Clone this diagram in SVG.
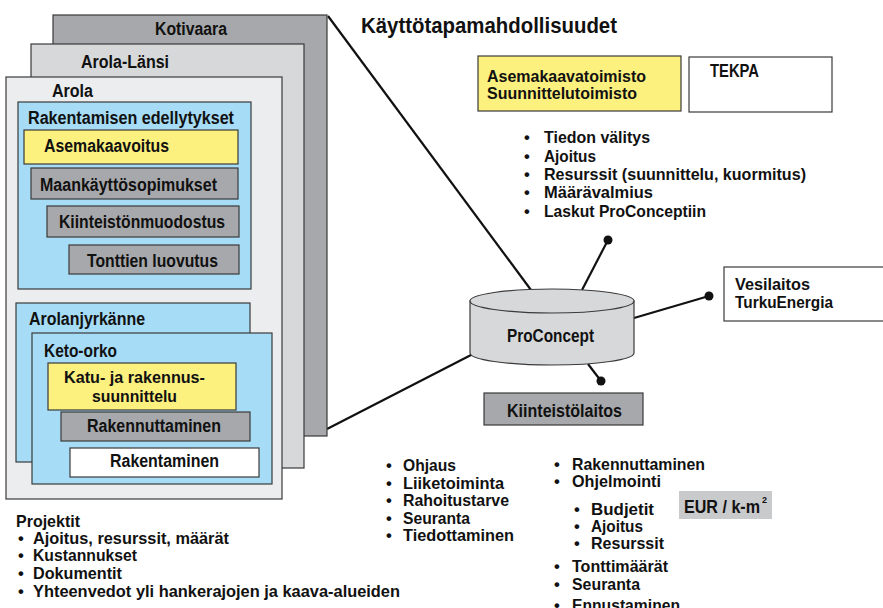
<svg xmlns="http://www.w3.org/2000/svg" width="883" height="608" viewBox="0 0 883 608">
<style>
text{font-family:"Liberation Sans",Arial,sans-serif;font-weight:bold;font-size:17.5px;fill:#111}
.s{font-size:16.5px}
.b{stroke:#3a3a3a;stroke-width:1.2}
.dk{fill:#a7a8ab}
.md{fill:#d7d8da}
.lt{fill:#ecedef}
.bl{fill:#a6dcf6}
.ye{fill:#fcf07e}
.wh{fill:#ffffff}
.ln{stroke:#111;stroke-width:2.2;fill:none}
</style>
<rect width="883" height="608" fill="#ffffff"/>

<g id="connectors">
<line class="ln" x1="328" y1="16" x2="531" y2="290"/>
<line class="ln" x1="327" y1="429" x2="471" y2="355"/>
<line class="ln" x1="582" y1="290" x2="608" y2="240"/>
<circle cx="608" cy="240" r="4.5" fill="#111"/>
<line class="ln" x1="634" y1="318" x2="709" y2="296"/>
<circle cx="709" cy="296" r="4.5" fill="#111"/>
<line class="ln" x1="588" y1="364" x2="601" y2="381"/>
<circle cx="601" cy="381" r="4.5" fill="#111"/>
</g>

<g id="kotivaara">
<rect class="b dk" x="53" y="15" width="274" height="421"/>
<text x="155" y="35" textLength="72" lengthAdjust="spacingAndGlyphs">Kotivaara</text>
</g>
<g id="arola-lansi">
<rect class="b md" x="31" y="44" width="273" height="424"/>
<text x="81" y="68" textLength="88" lengthAdjust="spacingAndGlyphs">Arola-Länsi</text>
</g>
<g id="arola">
<rect class="b lt" x="6" y="77" width="276" height="422"/>
<text x="52" y="97" textLength="41" lengthAdjust="spacingAndGlyphs">Arola</text>
</g>
<g id="rakentamisen-edellytykset">
<rect class="b bl" x="18" y="102" width="233" height="187"/>
<text x="28" y="124" textLength="206" lengthAdjust="spacingAndGlyphs">Rakentamisen edellytykset</text>
</g>
<g id="asemakaavoitus">
<rect class="b ye" x="24" y="130" width="214" height="34"/>
<text x="44" y="152" textLength="125" lengthAdjust="spacingAndGlyphs">Asemakaavoitus</text>
</g>
<g id="maankayttosopimukset">
<rect class="b dk" x="31" y="168" width="207" height="31"/>
<text x="40" y="191" textLength="177" lengthAdjust="spacingAndGlyphs">Maankäyttösopimukset</text>
</g>
<g id="kiinteistonmuodostus">
<rect class="b dk" x="47" y="206" width="192" height="31"/>
<text x="59" y="228" textLength="166" lengthAdjust="spacingAndGlyphs">Kiinteistönmuodostus</text>
</g>
<g id="tonttien-luovutus">
<rect class="b dk" x="69" y="245" width="170" height="29"/>
<text x="87" y="267" textLength="131" lengthAdjust="spacingAndGlyphs">Tonttien luovutus</text>
</g>
<g id="arolanjyrkanne">
<rect class="b bl" x="16" y="303" width="234" height="159"/>
<text x="29" y="325" textLength="116" lengthAdjust="spacingAndGlyphs">Arolanjyrkänne</text>
</g>
<g id="keto-orko">
<rect class="b bl" x="32" y="333" width="240" height="151"/>
<text x="44" y="357" textLength="73" lengthAdjust="spacingAndGlyphs">Keto-orko</text>
</g>
<g id="katu-ja-rakennussuunnittelu">
<rect class="b ye" x="48" y="363" width="188" height="47"/>
<text class="s" x="64" y="383" textLength="141" lengthAdjust="spacingAndGlyphs">Katu- ja rakennus-</text>
<text class="s" x="92" y="402" textLength="85" lengthAdjust="spacingAndGlyphs">suunnittelu</text>
</g>
<g id="rakennuttaminen">
<rect class="b dk" x="61" y="412" width="189" height="29"/>
<text x="87" y="432" textLength="134" lengthAdjust="spacingAndGlyphs">Rakennuttaminen</text>
</g>
<g id="rakentaminen">
<rect class="b wh" x="70" y="448" width="189" height="29"/>
<text x="110" y="467" textLength="109" lengthAdjust="spacingAndGlyphs">Rakentaminen</text>
</g>

<g id="title">
<text x="361" y="33" style="font-size:22.5px" textLength="256" lengthAdjust="spacingAndGlyphs">Käyttötapamahdollisuudet</text>
</g>

<g id="asemakaavatoimisto">
<rect class="b ye" x="478" y="56" width="203" height="55"/>
<text class="s" x="487" y="82" textLength="159" lengthAdjust="spacingAndGlyphs">Asemakaavatoimisto</text>
<text class="s" x="487" y="99" textLength="150" lengthAdjust="spacingAndGlyphs">Suunnittelutoimisto</text>
</g>
<g id="tekpa">
<rect class="b wh" x="689" y="57" width="143" height="55"/>
<text x="710" y="77" textLength="49" lengthAdjust="spacingAndGlyphs">TEKPA</text>
</g>

<g id="list-top">
<text class="s" x="527" y="143" text-anchor="middle">•</text>
<text class="s" x="544" y="143" textLength="106" lengthAdjust="spacingAndGlyphs">Tiedon välitys</text>
<text class="s" x="527" y="162" text-anchor="middle">•</text>
<text class="s" x="544" y="162" textLength="52" lengthAdjust="spacingAndGlyphs">Ajoitus</text>
<text class="s" x="527" y="180" text-anchor="middle">•</text>
<text class="s" x="544" y="180" textLength="262" lengthAdjust="spacingAndGlyphs">Resurssit (suunnittelu, kuormitus)</text>
<text class="s" x="527" y="198" text-anchor="middle">•</text>
<text class="s" x="544" y="198" textLength="109" lengthAdjust="spacingAndGlyphs">Määrävalmius</text>
<text class="s" x="527" y="217" text-anchor="middle">•</text>
<text class="s" x="544" y="217" textLength="162" lengthAdjust="spacingAndGlyphs">Laskut ProConceptiin</text>
</g>

<g id="proconcept">
<path class="b md" d="M470,301 V353 A82,12 0 0 0 634,353 V301 Z"/>
<ellipse class="b md" cx="552" cy="301" rx="82" ry="12"/>
<text x="507" y="342" textLength="87" lengthAdjust="spacingAndGlyphs">ProConcept</text>
</g>

<g id="vesilaitos">
<rect class="b wh" x="724" y="267" width="170" height="54"/>
<text class="s" x="735" y="290" textLength="75" lengthAdjust="spacingAndGlyphs">Vesilaitos</text>
<text class="s" x="735" y="308" textLength="98" lengthAdjust="spacingAndGlyphs">TurkuEnergia</text>
</g>

<g id="kiinteistolaitos">
<rect class="b dk" x="484" y="393" width="159" height="32"/>
<text x="507" y="417" textLength="115" lengthAdjust="spacingAndGlyphs">Kiinteistölaitos</text>
</g>

<g id="list-middle">
<text class="s" x="389" y="471" text-anchor="middle">•</text>
<text class="s" x="403" y="471" textLength="53" lengthAdjust="spacingAndGlyphs">Ohjaus</text>
<text class="s" x="389" y="488.5" text-anchor="middle">•</text>
<text class="s" x="403" y="488.5" textLength="101" lengthAdjust="spacingAndGlyphs">Liiketoiminta</text>
<text class="s" x="389" y="506" text-anchor="middle">•</text>
<text class="s" x="403" y="506" textLength="106" lengthAdjust="spacingAndGlyphs">Rahoitustarve</text>
<text class="s" x="389" y="523.5" text-anchor="middle">•</text>
<text class="s" x="403" y="523.5" textLength="67" lengthAdjust="spacingAndGlyphs">Seuranta</text>
<text class="s" x="389" y="541" text-anchor="middle">•</text>
<text class="s" x="403" y="541" textLength="111" lengthAdjust="spacingAndGlyphs">Tiedottaminen</text>
</g>

<g id="list-right">
<text class="s" x="557" y="470" text-anchor="middle">•</text>
<text class="s" x="572" y="470" textLength="133" lengthAdjust="spacingAndGlyphs">Rakennuttaminen</text>
<text class="s" x="557" y="487" text-anchor="middle">•</text>
<text class="s" x="572" y="487" textLength="89" lengthAdjust="spacingAndGlyphs">Ohjelmointi</text>
<text class="s" x="577" y="515" text-anchor="middle">•</text>
<text class="s" x="591" y="515" textLength="63" lengthAdjust="spacingAndGlyphs">Budjetit</text>
<text class="s" x="577" y="532" text-anchor="middle">•</text>
<text class="s" x="591" y="532" textLength="52" lengthAdjust="spacingAndGlyphs">Ajoitus</text>
<text class="s" x="577" y="549" text-anchor="middle">•</text>
<text class="s" x="591" y="549" textLength="73" lengthAdjust="spacingAndGlyphs">Resurssit</text>
<text class="s" x="557" y="572" text-anchor="middle">•</text>
<text class="s" x="572" y="572" textLength="96" lengthAdjust="spacingAndGlyphs">Tonttimäärät</text>
<text class="s" x="557" y="590" text-anchor="middle">•</text>
<text class="s" x="572" y="590" textLength="68" lengthAdjust="spacingAndGlyphs">Seuranta</text>
<text class="s" x="557" y="611" text-anchor="middle">•</text>
<text class="s" x="572" y="611" textLength="108" lengthAdjust="spacingAndGlyphs">Ennustaminen</text>
</g>

<g id="eur-km2">
<rect x="679" y="491" width="93" height="28" fill="#c9cacc"/>
<text x="684" y="513" textLength="76" lengthAdjust="spacingAndGlyphs">EUR / k-m</text>
<text x="762" y="503" style="font-size:9px">2</text>
</g>

<g id="list-projektit">
<text class="s" x="16" y="527" textLength="64" lengthAdjust="spacingAndGlyphs">Projektit</text>
<text class="s" x="21" y="544" text-anchor="middle">•</text>
<text class="s" x="33" y="544" textLength="196" lengthAdjust="spacingAndGlyphs">Ajoitus, resurssit, määrät</text>
<text class="s" x="21" y="561" text-anchor="middle">•</text>
<text class="s" x="33" y="561" textLength="104" lengthAdjust="spacingAndGlyphs">Kustannukset</text>
<text class="s" x="21" y="579" text-anchor="middle">•</text>
<text class="s" x="33" y="579" textLength="89" lengthAdjust="spacingAndGlyphs">Dokumentit</text>
<text class="s" x="21" y="597" text-anchor="middle">•</text>
<text class="s" x="33" y="597" textLength="367" lengthAdjust="spacingAndGlyphs">Yhteenvedot yli hankerajojen ja kaava-alueiden</text>
</g>
</svg>
